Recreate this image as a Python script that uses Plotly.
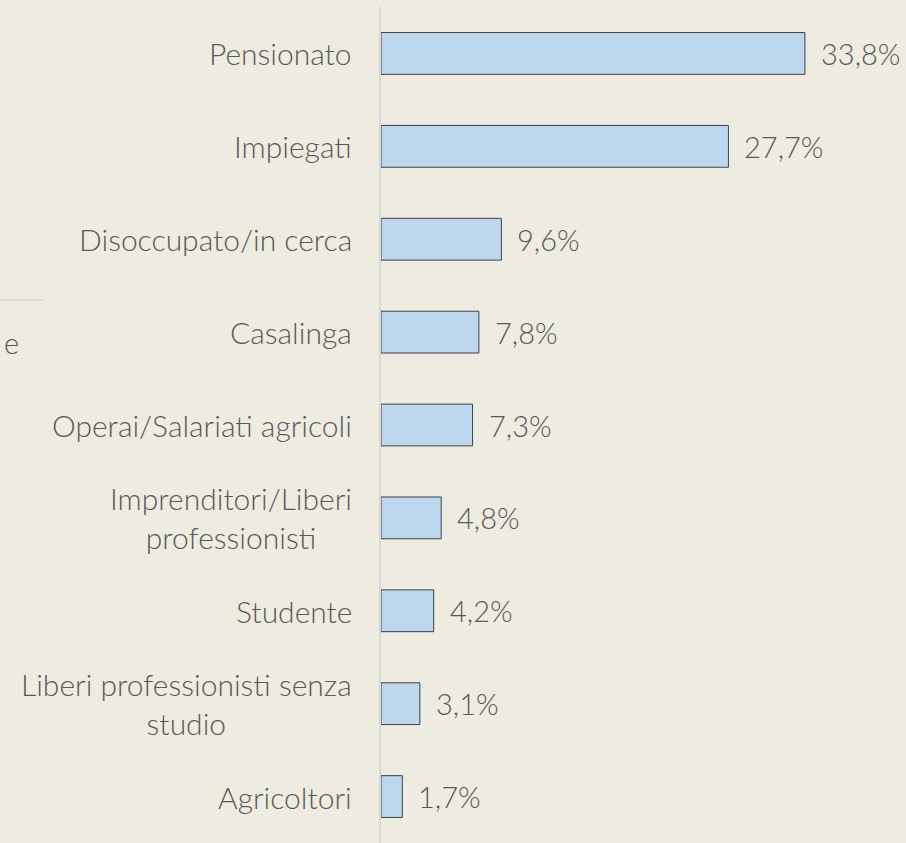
import plotly.graph_objects as go

categories = ["Pensionato", "Impiegati", "Disoccupato/in cerca", "Casalinga",
              "Operai/Salariati agricoli", "Imprenditori/Liberi<br>professionisti",
              "Studente", "Liberi professionisti senza<br>studio", "Agricoltori"]
values = [33.8, 27.7, 9.6, 7.8, 7.3, 4.8, 4.2, 3.1, 1.7]
value_labels = ["33,8%", "27,7%", "9,6%", "7,8%", "7,3%", "4,8%", "4,2%", "3,1%", "1,7%"]

BG = "#EEEBE0"
FONT = "Lato"
TXT = "#595959"
FS_CAT = 30
FS_VAL = 29

fig = go.Figure(go.Bar(
    y=categories, x=values, orientation="h",
    marker=dict(color="#BDD7EE", line=dict(color="#404040", width=1)),
    width=0.45, hoverinfo="skip"))

annotations = []
for c, v, t in zip(categories, values, value_labels):
    annotations.append(dict(x=0, xref="paper", y=c, yref="y", text=c, showarrow=False,
                            xanchor="right", yanchor="middle", xshift=-27, align="center",
                            font=dict(family=FONT, size=FS_CAT, color=TXT, weight=300)))
    annotations.append(dict(x=v, xref="x", y=c, yref="y", text=t, showarrow=False,
                            xanchor="left", yanchor="middle", xshift=14,
                            font=dict(family=FONT, size=FS_VAL, color=TXT, weight=300)))

# cropped fragment of a neighbouring element on the left
W = 525.0
H = 836.0
annotations.append(dict(x=(2 - 381) / W, xref="paper", y=1 - (342 - 7) / H, yref="paper",
                        text="e", showarrow=False, xanchor="left", yanchor="middle",
                        font=dict(family=FONT, size=FS_VAL, color=TXT, weight=300)))

fig.add_shape(type="line", xref="paper", yref="paper",
              x0=(0 - 381) / W, x1=(44 - 381) / W,
              y0=1 - (300 - 7) / H, y1=1 - (300 - 7) / H,
              line=dict(color="#D9D9D9", width=2))

fig.update_layout(
    width=906, height=843,
    margin=dict(l=381, r=0, t=7, b=0),
    paper_bgcolor=BG, plot_bgcolor=BG,
    showlegend=False,
    annotations=annotations,
    xaxis=dict(range=[0, 41.86], visible=False, showgrid=False, zeroline=False),
    yaxis=dict(autorange="reversed", showticklabels=False, ticks="", showgrid=False,
               zeroline=False, showline=True, linecolor="#D9D9D9", linewidth=2),
    font=dict(family=FONT, color=TXT),
)

fig.write_html("out.html", config={"displayModeBar": False},
               post_script="document.body.style.margin='0';document.body.style.background='%s';" % BG)
